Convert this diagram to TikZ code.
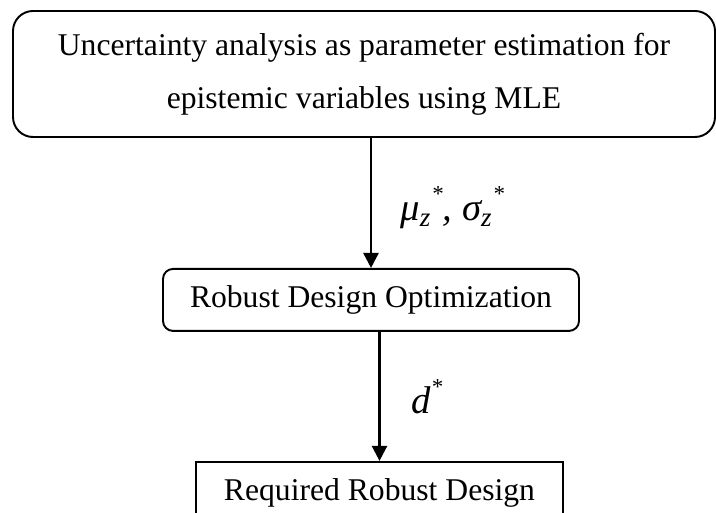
\documentclass[tikz,border=0pt]{standalone}
\usepackage{fontspec}
\setmainfont{Liberation Serif}
\usetikzlibrary{arrows.meta,positioning}
\tikzset{
  stagebox/.style={draw,line width=1.1pt,rounded corners=2mm,align=center,font=\fontsize{18}{30.2}\selectfont},
  flow/.style={-{Triangle[length=3mm,width=3mm]},line width=1.4pt},
  varlabel/.style={font=\fontsize{22}{26}\selectfont\itshape}
}
\newcommand{\optstar}{\raisebox{0.5em}{\fontsize{13}{13}\selectfont *}}

\begin{document}
\begin{tikzpicture}
  \useasboundingbox (0,0) rectangle (14.32,-10.26);
  \clip (0,0) rectangle (14.32,-10.26);

  \node[stagebox,rounded corners=4mm,minimum width=14.04cm,minimum height=2.52cm] (uq) at (7.28,-1.48)
    {Uncertainty analysis as parameter estimation for\\epistemic variables using MLE};
  \node[stagebox,minimum width=8.32cm,minimum height=1.24cm,below=2.6cm of uq,xshift=0.14cm] (rdo) {Robust Design Optimization};
  \node[stagebox,rounded corners=0pt,minimum width=7.34cm,minimum height=1.24cm,below=2.58cm of rdo,xshift=0.17cm] (req) {Required Robust Design};

  % estimated parameters, then the optimum design
  \draw[flow] (uq.south -| rdo.north) -- node[varlabel,right=0.45cm,yshift=-0.1cm] {μ\textsubscript{z}\optstar, σ\textsubscript{z}\optstar} (rdo.north);
  \draw[flow] (rdo.south -| req.north) -- node[varlabel,right=0.5cm] {d\optstar} (req.north);
\end{tikzpicture}
\end{document}
